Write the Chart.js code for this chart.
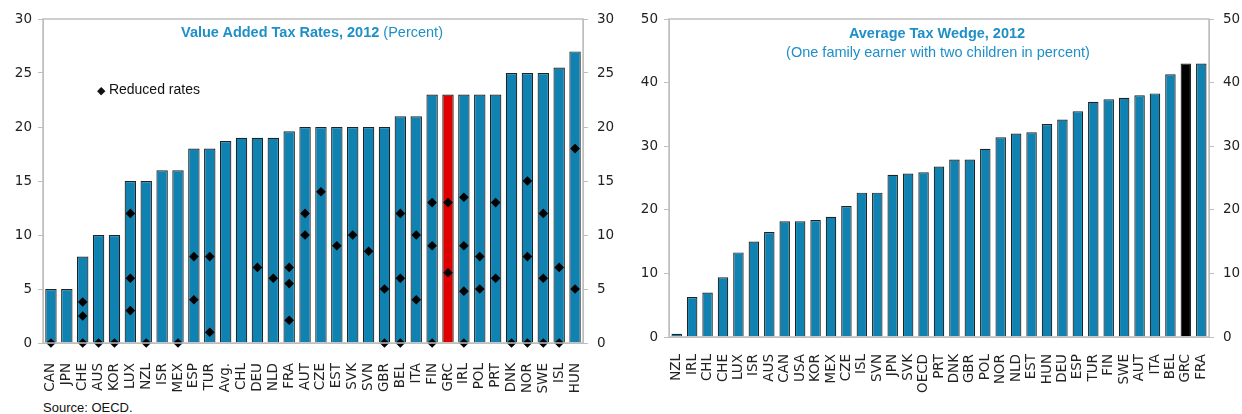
<!DOCTYPE html>
<html>
<head>
<meta charset="utf-8">
<script src="https://cdn.jsdelivr.net/npm/chart.js@4/dist/chart.umd.min.js"></script>
<style>
  body { margin: 0; background: #fff; width: 1242px; height: 414px; position: relative; overflow: hidden; font-family: 'Liberation Sans', Arial, sans-serif; }
  .panel { position: absolute; top: 0; height: 395px; }
  .title { position: absolute; color: #1f8fc8; font-size: 14.5px; white-space: nowrap; transform: translateX(-50%); }
  .title b { font-weight: bold; }
  .legend { position: absolute; left: 97px; top: 81px; font-size: 14px; color: #111; }
  .source { position: absolute; left: 43px; top: 400px; font-size: 13px; color: #111; }
</style>
</head>
<body>
<div class="panel" style="left:0;width:625px"><canvas id="chart-vat"></canvas></div>
<div class="panel" style="left:625px;width:617px"><canvas id="chart-wedge"></canvas></div>

<div class="title" style="left:312px;top:24px"><b>Value Added Tax Rates, 2012</b> (Percent)</div>
<div class="title" style="left:937px;top:25px"><b>Average Tax Wedge, 2012</b></div>
<div class="title" style="left:938px;top:44px">(One family earner with two children in percent)</div>
<div class="legend"><span style="font-size:11px">&#9670;</span> Reduced rates</div>
<div class="source">Source: OECD.</div>

<script>
// Left panel: VAT standard rates and reduced rates
const vatCountries = ['CAN', 'JPN', 'CHE', 'AUS', 'KOR', 'LUX', 'NZL', 'ISR', 'MEX', 'ESP', 'TUR', 'Avg.',
  'CHL', 'DEU', 'NLD', 'FRA', 'AUT', 'CZE', 'EST', 'SVK', 'SVN', 'GBR', 'BEL', 'ITA', 'FIN', 'GRC',
  'IRL', 'POL', 'PRT', 'DNK', 'NOR', 'SWE', 'ISL', 'HUN'];
const vatRates = [5, 5, 8, 10, 10, 15, 15, 16, 16, 18, 18, 18.7,
  19, 19, 19, 19.6, 20, 20, 20, 20, 20, 20, 21, 21, 23, 23,
  23, 23, 23, 25, 25, 25, 25.5, 27];
const reducedRates = [
  [0], [], [0, 2.5, 3.8], [0], [0], [3, 6, 12], [0], [], [0], [4, 8], [1, 8], [],
  [], [7], [6], [2.1, 5.5, 7], [10, 12], [14], [9], [10], [8.5], [0, 5], [0, 6, 12], [4, 10], [0, 9, 13], [6.5, 13],
  [0, 4.8, 9, 13.5], [5, 8], [6, 13], [0], [0, 8, 15], [0, 6, 12], [0, 7], [5, 18]
];

// Right panel: average tax wedge
const wedgeCountries = ['NZL', 'IRL', 'CHL', 'CHE', 'LUX', 'ISR', 'AUS', 'CAN', 'USA', 'KOR', 'MEX', 'CZE',
  'ISL', 'SVN', 'JPN', 'SVK', 'OECD', 'PRT', 'DNK', 'GBR', 'POL', 'NOR', 'NLD', 'EST', 'HUN', 'DEU',
  'ESP', 'TUR', 'FIN', 'SWE', 'AUT', 'ITA', 'BEL', 'GRC', 'FRA'];
const wedgeValues = [0.5, 6.3, 7.0, 9.4, 13.3, 15.0, 16.5, 18.2, 18.2, 18.4, 18.9, 20.6,
  22.7, 22.7, 25.5, 25.7, 25.9, 26.8, 27.9, 27.9, 29.6, 31.4, 32.0, 32.2, 33.5, 34.2,
  35.5, 37.0, 37.4, 37.6, 38.0, 38.3, 41.3, 43.0, 43.0];

const vatTicks = [0, 5, 10, 15, 20, 25, 30];
const wedgeTicks = [0, 10, 20, 30, 40, 50];

const BAR_BLUE = '#0f82b2';
const AXIS_GREY = '#bfbfbf';
const FONT = "'DejaVu Sans', Verdana, sans-serif";

// draws the grey box round the plot area
const frameBox = {
  id: 'frameBox',
  afterDraw(chart) {
    const { ctx, chartArea: a } = chart;
    ctx.save();
    ctx.strokeStyle = AXIS_GREY;
    ctx.lineWidth = 1.5;
    ctx.strokeRect(a.left, a.top, a.right - a.left, a.bottom - a.top);
    ctx.restore();
  },
};

function yAxis(position, ticks, width) {
  return {
    type: 'linear',
    position,
    min: ticks[0],
    max: ticks[ticks.length - 1],
    afterBuildTicks: (s) => { s.ticks = ticks.map((v) => ({ value: v })); },
    afterFit: (s) => { s.width = width; },
    grid: { drawOnChartArea: false, color: AXIS_GREY, tickLength: 5 },
    border: { color: AXIS_GREY },
    ticks: { color: '#222', padding: position === 'left' ? 6 : 9, font: { family: FONT, size: 13.5 } },
  };
}

function xAxis(height, pad) {
  return {
    type: 'category',
    afterFit: (s) => { s.height = height; },
    grid: { display: false },
    border: { color: AXIS_GREY },
    ticks: {
      color: '#222', autoSkip: false, minRotation: 90, maxRotation: 90, padding: pad,
      font: { family: FONT, size: 13.5 },
    },
  };
}

function baseOptions() {
  return {
    responsive: true,
    maintainAspectRatio: false,
    animation: false,
    layout: { padding: { top: 19, left: 0, right: 0, bottom: 0 } },
    plugins: { legend: { display: false }, tooltip: { enabled: false } },
  };
}

function renderVat() {
  const ctx = document.getElementById('chart-vat').getContext('2d');
  const points = vatCountries.flatMap((c, i) => reducedRates[i].map((v) => ({ x: c, y: v })));
  const opts = baseOptions();
  opts.scales = {
    x: xAxis(52, 12),
    y: yAxis('left', vatTicks, 43),
    y2: yAxis('right', vatTicks, 42),
  };
  new Chart(ctx, {
    type: 'bar',
    data: {
      labels: vatCountries,
      datasets: [
        {
          type: 'line',
          label: 'Reduced rates',
          data: points,
          showLine: false,
          pointStyle: 'rectRot',
          pointRadius: 4.8,
          pointBackgroundColor: '#000',
          pointBorderColor: '#000',
          pointBorderWidth: 0,
          clip: false,
          order: 0,
        },
        {
          label: 'Standard rate',
          data: vatRates,
          backgroundColor: vatCountries.map((c) => (c === 'GRC' ? '#e00000' : BAR_BLUE)),
          borderColor: '#222',
          borderWidth: 1.2,
          barPercentage: 0.72,
          categoryPercentage: 1,
          order: 1,
        },
      ],
    },
    options: opts,
    plugins: [frameBox],
  });
}

function renderWedge() {
  const ctx = document.getElementById('chart-wedge').getContext('2d');
  const opts = baseOptions();
  opts.scales = {
    x: xAxis(58, 9),
    y: yAxis('left', wedgeTicks, 44),
    y2: yAxis('right', wedgeTicks, 33),
  };
  new Chart(ctx, {
    type: 'bar',
    data: {
      labels: wedgeCountries,
      datasets: [{
        label: 'Average tax wedge',
        data: wedgeValues,
        backgroundColor: wedgeCountries.map((c) => (c === 'GRC' ? '#000' : BAR_BLUE)),
        borderColor: '#222',
        borderWidth: 1.2,
        barPercentage: 0.68,
        categoryPercentage: 1,
      }],
    },
    options: opts,
    plugins: [frameBox],
  });
}

renderVat();
renderWedge();
</script>
</body>
</html>
